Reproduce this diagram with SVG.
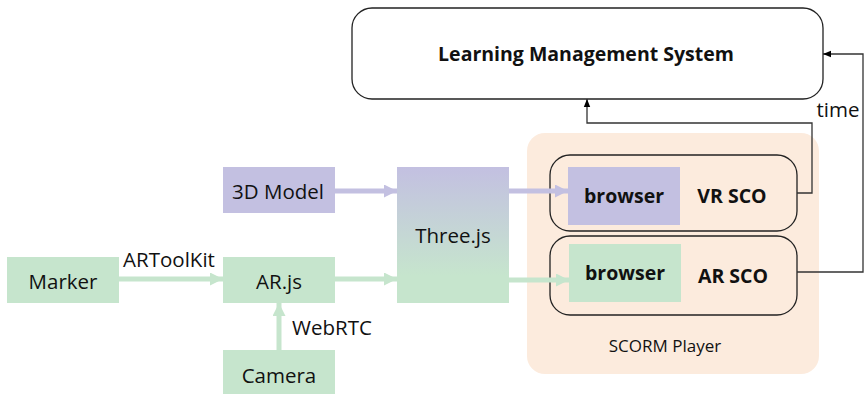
<svg xmlns="http://www.w3.org/2000/svg" width="864" height="394" viewBox="0 0 864 394">
<defs>
<linearGradient id="gThree" x1="0" y1="0" x2="0" y2="1">
<stop offset="0" stop-color="#C3C0E1"/>
<stop offset="0.8" stop-color="#C6E5CD"/>
<stop offset="1" stop-color="#C6E5CD"/>
</linearGradient>
<marker id="ap" viewBox="0 0 10 10" refX="10" refY="5" markerWidth="2.6" markerHeight="2.6" orient="auto" markerUnits="strokeWidth"><path d="M0,0 L10,5 L0,10 z" fill="#C3C0E1"/></marker>
<marker id="ag" viewBox="0 0 10 10" refX="10" refY="5" markerWidth="2.6" markerHeight="2.6" orient="auto" markerUnits="strokeWidth"><path d="M0,0 L10,5 L0,10 z" fill="#C6E5CD"/></marker>
<marker id="ak" viewBox="0 0 10 10" refX="10" refY="5" markerWidth="8" markerHeight="8" orient="auto" markerUnits="userSpaceOnUse"><path d="M0,1 L10,5 L0,9 z" fill="#000"/></marker>
</defs>
<style>
text{font-family:"Open Sans","Noto Sans","Liberation Sans",sans-serif;fill:#111;text-anchor:middle;dominant-baseline:central}
.n{font-size:20.5px}
.b{font-size:19.5px;font-weight:bold}
.s{font-size:17px}
.purple{fill:#C3C0E1}
.green{fill:#C6E5CD}
.sco{fill:none;stroke:#222;stroke-width:1.3}
.fp{stroke:#C3C0E1;stroke-width:5;fill:none}
.fg{stroke:#C6E5CD;stroke-width:5;fill:none}
.k{stroke:#333;stroke-width:1.3;fill:none}
</style>
<g id="scorm-player">
<rect x="527" y="133" width="292" height="241" rx="18" fill="#FCEBDD"/>
<text class="s" x="665" y="345">SCORM Player</text>
</g>
<g id="lms">
<rect x="352" y="8" width="471" height="91" rx="20" fill="#fff" stroke="#222" stroke-width="1.3"/>
<text class="b" x="586" y="53">Learning Management System</text>
</g>
<g id="vr-sco">
<rect class="sco" x="550" y="155" width="247" height="76" rx="20"/>
<rect class="purple" x="568" y="167" width="112" height="58"/>
<text class="b" x="624" y="195">browser</text>
<text class="b" x="732" y="195">VR SCO</text>
</g>
<g id="ar-sco">
<rect class="sco" x="550" y="236" width="247" height="79" rx="20"/>
<rect class="green" x="569" y="244" width="112" height="58"/>
<text class="b" x="625" y="272">browser</text>
<text class="b" x="733" y="275">AR SCO</text>
</g>
<g id="threejs">
<rect x="397" y="167" width="112" height="136" fill="url(#gThree)"/>
<text class="n" x="453" y="235">Three.js</text>
</g>
<g id="model">
<rect class="purple" x="223" y="167" width="112" height="46"/>
<text class="n" x="278" y="191">3D Model</text>
</g>
<g id="marker">
<rect class="green" x="7" y="257" width="112" height="46"/>
<text class="n" x="63" y="281">Marker</text>
</g>
<g id="arjs">
<rect class="green" x="223" y="257" width="112" height="46"/>
<text class="n" x="279" y="281">AR.js</text>
</g>
<g id="camera">
<rect class="green" x="223" y="350" width="112" height="44"/>
<text class="n" x="279" y="375">Camera</text>
</g>
<g id="connectors">
<path class="fp" d="M335,191 L397,191" marker-end="url(#ap)"/>
<path class="fp" d="M509,191 L568,191" marker-end="url(#ap)"/>
<path class="fg" d="M119,279 L223,279" marker-end="url(#ag)"/>
<path class="fg" d="M335,279 L397,279" marker-end="url(#ag)"/>
<path class="fg" d="M509,280 L569,280" marker-end="url(#ag)"/>
<path class="fg" d="M279,350 L279,303" marker-end="url(#ag)"/>
<path class="k" d="M797,193 L812,193 L812,123 L587,123 L587,99" marker-end="url(#ak)"/>
<path class="k" d="M797,272 L863,272 L863,54 L823,54" marker-end="url(#ak)"/>
<text class="n" x="169" y="259">ARToolKit</text>
<text class="n" x="332" y="327">WebRTC</text>
<text class="n" x="838" y="109">time</text>
</g>
</svg>
